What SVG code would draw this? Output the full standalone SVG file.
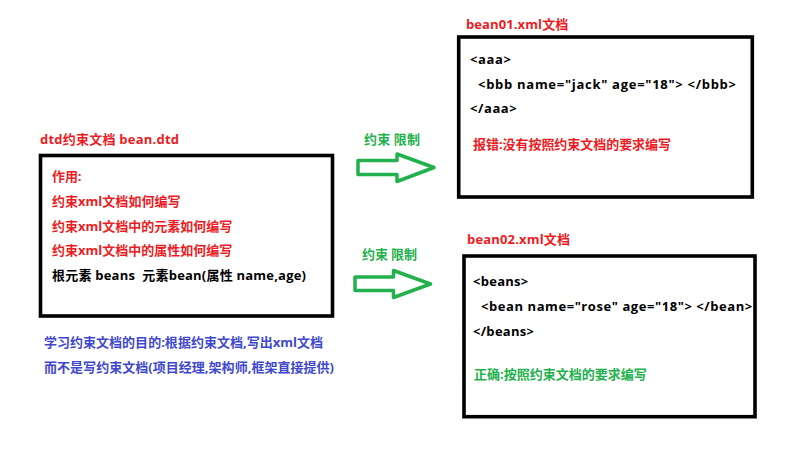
<svg xmlns="http://www.w3.org/2000/svg" width="805" height="460" viewBox="0 0 805 460">
<style>
text{font-family:"Open Sans","Noto Sans CJK SC",sans-serif;font-weight:bold;font-size:13px}
.r{fill:#ed1c24}.k{fill:#000}.g{fill:#22b14c}.b{fill:#3f48cc}
.box{fill:#fff;stroke:#000;stroke-width:3.6}
.arr{fill:none;stroke:#22b14c;stroke-width:3.5;stroke-linejoin:round}
</style>
<rect width="805" height="460" fill="#fff"/>
<g id="dtd">
<text class="r" x="40" y="144" textLength="139">dtd约束文档 bean.dtd</text>
<rect class="box" x="40.5" y="155.5" width="292" height="160.5"/>
<text class="r" x="52" y="181" textLength="29.5">作用:</text>
<text class="r" x="52" y="206" textLength="128.5">约束xml文档如何编写</text>
<text class="r" x="52" y="231" textLength="180.3">约束xml文档中的元素如何编写</text>
<text class="r" x="52" y="255" textLength="180.3">约束xml文档中的属性如何编写</text>
<text class="k" x="52" y="280" xml:space="preserve" textLength="254">根元素 beans  元素bean(属性 name,age)</text>
</g>
<g id="note">
<text class="b" x="44" y="347" textLength="279">学习约束文档的目的:根据约束文档,写出xml文档</text>
<text class="b" x="44" y="372" textLength="290">而不是写约束文档(项目经理,架构师,框架直接提供)</text>
</g>
<g id="bean01">
<text class="r" x="466" y="29" textLength="102.3">bean01.xml文档</text>
<rect class="box" x="458.7" y="37" width="293.6" height="160"/>
<text class="k" x="470" y="64" textLength="41">&lt;aaa&gt;</text>
<text class="k" x="478" y="89" textLength="258">&lt;bbb name="jack" age="18"&gt; &lt;/bbb&gt;</text>
<text class="k" x="470" y="113" textLength="46.7">&lt;/aaa&gt;</text>
<text class="r" x="473" y="149" textLength="198">报错:没有按照约束文档的要求编写</text>
</g>
<g id="bean02">
<text class="r" x="467" y="244" textLength="103">bean02.xml文档</text>
<rect class="box" x="464" y="256" width="291" height="160.7"/>
<text class="k" x="473" y="286" textLength="55.3">&lt;beans&gt;</text>
<text class="k" x="481" y="311" textLength="271.3">&lt;bean name="rose" age="18"&gt; &lt;/bean&gt;</text>
<text class="k" x="473" y="336" textLength="61">&lt;/beans&gt;</text>
<text class="g" x="474" y="379" textLength="172.7">正确:按照约束文档的要求编写</text>
</g>
<g id="connectors">
<text class="g" x="364" y="144" xml:space="preserve" textLength="56">约束 限制</text>
<polygon class="arr" points="358,160.5 397,160.5 397,154 434,167.5 397,181.5 397,174.5 358,174.5"/>
<text class="g" x="362" y="259" xml:space="preserve" textLength="55">约束 限制</text>
<polygon class="arr" points="355,277 393.5,277 393.5,270.5 430.5,284 393.5,297.5 393.5,290.5 355,290.5"/>
</g>
</svg>
